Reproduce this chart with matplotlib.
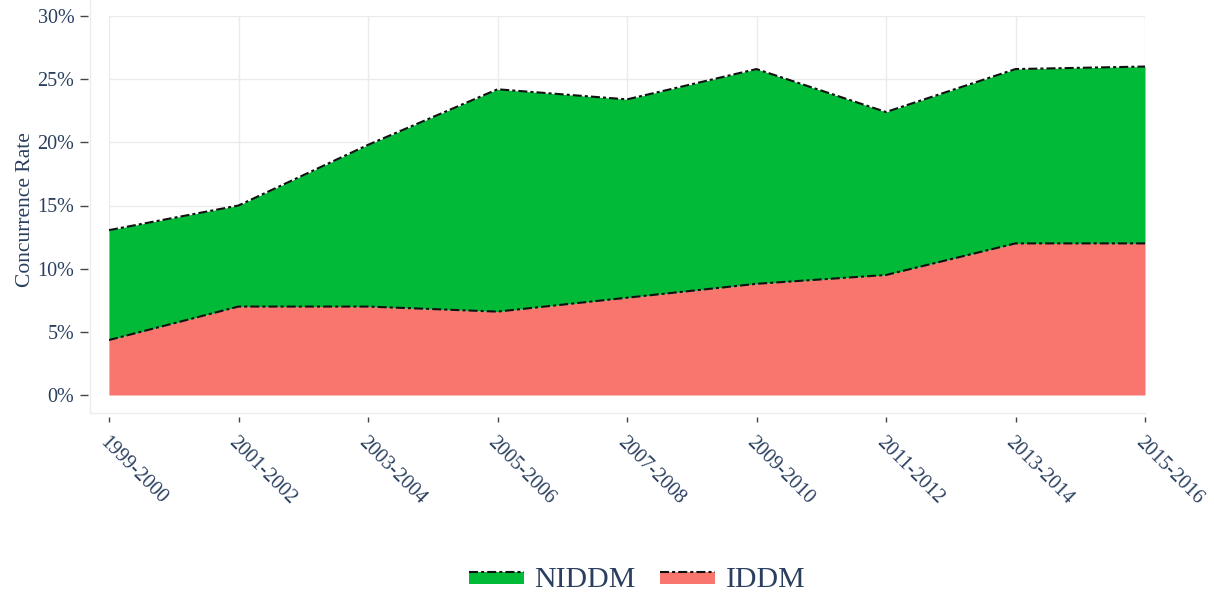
import numpy as np
import matplotlib
matplotlib.use("Agg")
import matplotlib.pyplot as plt
from matplotlib.lines import Line2D
from matplotlib.patches import Rectangle
from matplotlib.legend_handler import HandlerBase
from matplotlib.ticker import FuncFormatter

plt.rcParams['font.family'] = ['Liberation Serif', 'DejaVu Serif']
plt.rcParams['lines.scale_dashes'] = False

periodos = ["1999-2000", "2001-2002", "2003-2004", "2005-2006", "2007-2008",
            "2009-2010", "2011-2012", "2013-2014", "2015-2016"]
iddm = [4.35, 7.0, 7.0, 6.6, 7.7, 8.8, 9.5, 12.0, 12.0]
niddm = [8.7, 8.0, 12.8, 17.6, 15.7, 17.0, 12.9, 13.8, 14.0]
y_ticks = [0, 5, 10, 15, 20, 25, 30]

verde = '#00BA38'
salmao = '#F8766D'
texto = '#2a3f5f'
traco = (0, (6.5, 2.2, 2.2, 2.2))

W, H = 1214, 599
fig = plt.figure(figsize=(W / 100, H / 100), dpi=100)
# area de plotagem em pixels: x 109..1145, y 16..395
ax = fig.add_axes([109 / W, 1 - 395 / H, (1145 - 109) / W, (395 - 16) / H])

x = np.arange(len(periodos))
total = np.array(iddm) + np.array(niddm)

ax.fill_between(x, 0, iddm, color=salmao, lw=0, zorder=2)
ax.fill_between(x, iddm, total, color=verde, lw=0, zorder=2)
ax.plot(x, iddm, color='#111111', lw=1.5, linestyle=traco, zorder=3)
ax.plot(x, total, color='#111111', lw=1.5, linestyle=traco, zorder=3)

# spines deslocados (isso reseta os ticks, entao vem antes)
for lado in ['top', 'right']:
    ax.spines[lado].set_visible(False)
ax.spines['left'].set_position(('outward', 15.1))
ax.spines['bottom'].set_position(('outward', 15.8))
ax.spines['left'].set_color('none')
ax.spines['bottom'].set_color('none')

ax.set_xlim(0, len(periodos) - 1)
ax.set_ylim(0, 30)
ax.set_xticks(x)
ax.set_xticklabels(periodos, rotation=-45, ha='left', va='top',
                   rotation_mode='anchor', fontsize=14.5, color=texto)
ax.set_yticks(y_ticks)
ax.yaxis.set_major_formatter(FuncFormatter(lambda v, p: f"{v:.0f}%"))
ax.tick_params(axis='y', labelsize=14.5, labelcolor=texto, length=5.8,
               width=1, color='#444444', pad=4)
ax.tick_params(axis='x', length=3.6, width=1, color='#444444', pad=8)
ax.grid(True, color='#ebebeb', lw=1, zorder=0)
ax.set_axisbelow(True)

ax.set_ylabel("Concurrence Rate", fontsize=15.5, color=texto)
ax.yaxis.set_label_coords(35 / W, 1 - 210 / H, transform=fig.transFigure)

# moldura clara
fig.add_artist(Line2D([90 / W, 90 / W], [1, 1 - 413 / H], color='#ececec',
                      lw=1, transform=fig.transFigure))
fig.add_artist(Line2D([90 / W, 1145 / W], [1 - 413 / H, 1 - 413 / H],
                      color='#ececec', lw=1, transform=fig.transFigure))


class FillLine(HandlerBase):
    def create_artists(self, legend, orig, xd, yd, width, height, fontsize, trans):
        r = Rectangle((-xd, -yd + height * 0.05), width, height * 0.7,
                      facecolor=orig.get_facecolor(), edgecolor='none',
                      transform=trans)
        l = Line2D([-xd, -xd + width], [-yd + height * 0.75] * 2,
                   color='#111111', lw=1.5, linestyle=traco, transform=trans)
        return [r, l]


h1 = Rectangle((0, 0), 1, 1, facecolor=verde)
h2 = Rectangle((0, 0), 1, 1, facecolor=salmao)
leg = fig.legend([h1, h2], ["NIDDM", "IDDM"], loc='center',
                 bbox_to_anchor=(637 / W, 1 - 580 / H), ncol=2, frameon=False,
                 handler_map={Rectangle: FillLine()}, fontsize=21.5,
                 handlelength=1.85, handleheight=0.45, handletextpad=0.35,
                 columnspacing=0.8)
for t in leg.get_texts():
    t.set_color(texto)

fig.savefig("out.png", dpi=100)
